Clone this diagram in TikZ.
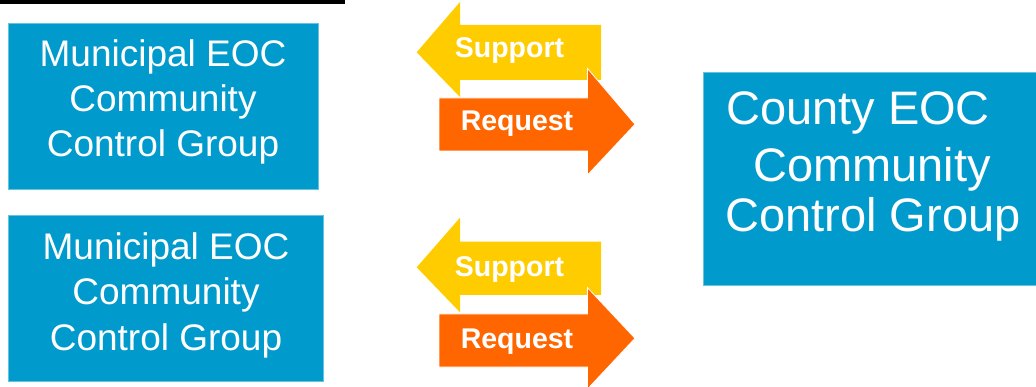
\documentclass[tikz,border=0pt]{standalone}
\usepackage{fontspec}
\setmainfont{Liberation Sans}
\definecolor{boxblue}{HTML}{009BCC}
\definecolor{supyellow}{HTML}{FFCC00}
\definecolor{reqorange}{HTML}{FF6600}
\tikzset{
  box/.style={fill=boxblue, draw=boxblue!60!white, line width=0.6pt, inner sep=0pt, anchor=center},
  mtext/.style={text=white, font=\fontsize{37}{45}\selectfont, anchor=base, inner sep=0pt},
  ctext/.style={text=white, font=\fontsize{47}{56}\selectfont, anchor=base, inner sep=0pt},
  lbl/.style={text=white, font=\fontsize{28.5}{34}\selectfont\bfseries, anchor=base, inner sep=0pt},
  suparrow/.style={fill=supyellow},
  reqarrow/.style={fill=reqorange, draw=white, line width=0.8pt, line join=miter},
}
\begin{document}
\begin{tikzpicture}[x=1pt,y=-1pt]
\useasboundingbox (0,0) rectangle (1036,387);
% cut-off underline at the top
\draw[line width=3.6pt] (0,1.8) -- (345,1.8);

% boxes
\node[box, minimum width=310pt, minimum height=166pt] (m1) at (163,106) {};
\node[box, minimum width=315.5pt, minimum height=166pt] (m2) at (165.75,298) {};
\node[box, minimum width=340pt, minimum height=213pt] (cty) at (873,178.5) {};

\node[mtext] (m1a) at (163,66.5) {Municipal EOC};
\node[mtext] (m1b) at (163,112) {Community};
\node[mtext] (m1c) at (163,156.5) {Control Group};

\node[mtext] (m2a) at (166,260) {Municipal EOC};
\node[mtext] (m2b) at (166,305) {Community};
\node[mtext] (m2c) at (166,350) {Control Group};

\node[ctext] (ca) at (858,125) {County EOC};
\node[ctext] (cb) at (872,181.5) {Community};
\node[ctext] (cc) at (873,231.5) {Control Group};

% top arrows
\fill[suparrow] (416.7,52.3) -- (460,2) -- (460,25) -- (601,25) -- (601,80) -- (460,80) -- (460,97) -- cycle;
\filldraw[reqarrow] (439,98) -- (587.5,98) -- (587.5,68.5) -- (635,124.3) -- (587.5,175) -- (587.5,151) -- (439,151) -- cycle;
\node[lbl] (s1) at (509.5,57.5) {Support};
\node[lbl] (r1) at (517,131) {Request};

% bottom arrows
\fill[suparrow] (416.7,267.3) -- (460,217.7) -- (460,241.7) -- (601,241.7) -- (601,295) -- (460,295) -- (460,312.3) -- cycle;
\filldraw[reqarrow] (439,314) -- (587.5,314) -- (587.5,287.7) -- (635,338.3) -- (587.5,389) -- (587.5,367) -- (439,367) -- cycle;
\node[lbl] (s2) at (509.5,277) {Support};
\node[lbl] (r2) at (517,348.7) {Request};
\end{tikzpicture}
\end{document}
